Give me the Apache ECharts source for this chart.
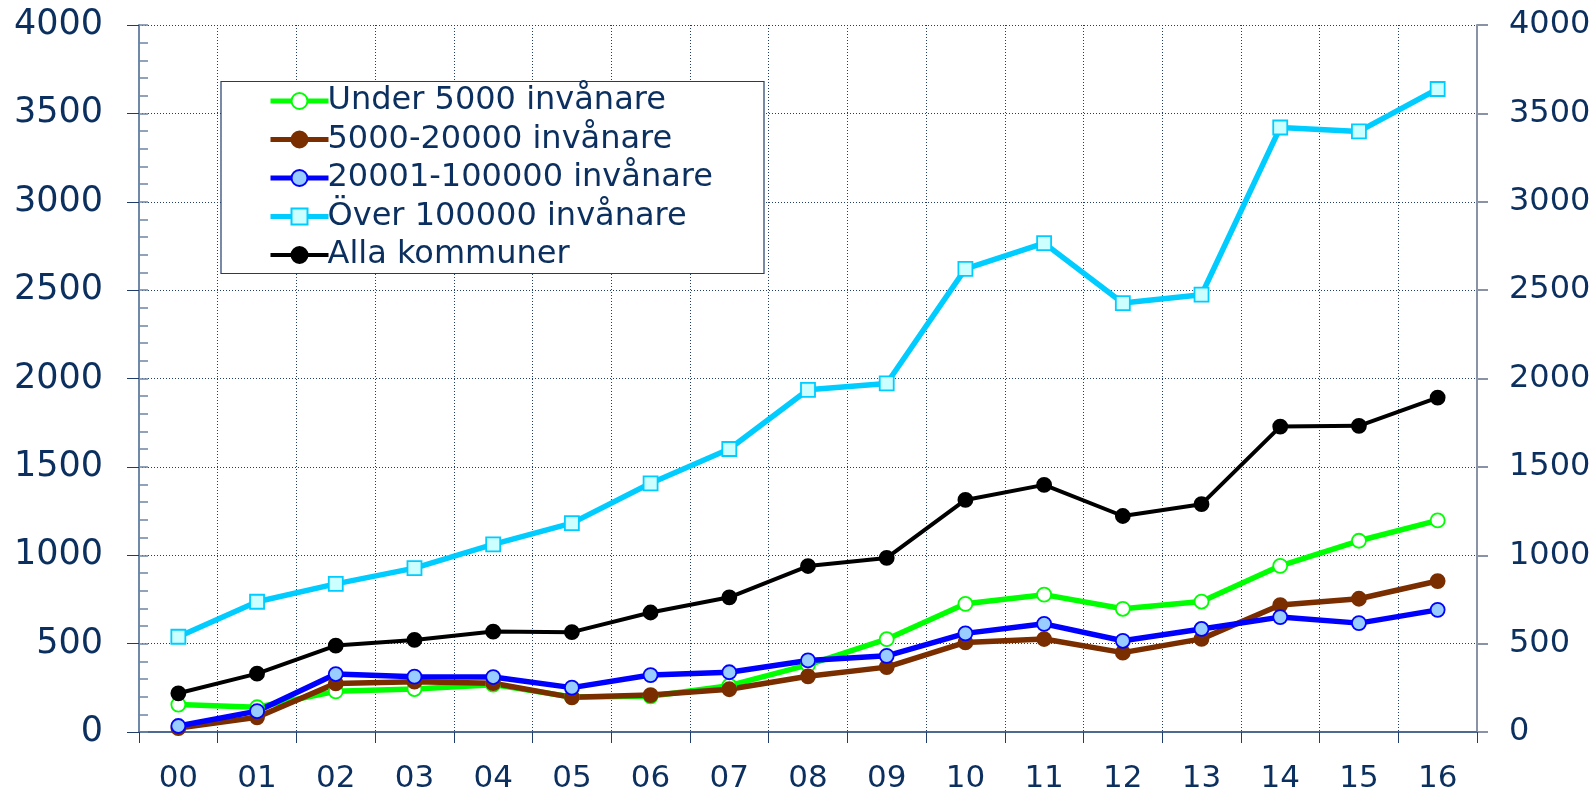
<!DOCTYPE html>
<html>
<head>
<meta charset="utf-8">
<script src="https://cdn.jsdelivr.net/npm/echarts@6/dist/echarts.min.js"></script>
<style>
  html, body { margin: 0; padding: 0; background: #fff; }
  #chart { width: 1596px; height: 794px; }
</style>
</head>
<body>
<div id="chart"></div>
<script>
  // år (kategorier)
  var years = ['00', '01', '02', '03', '04', '05', '06', '07', '08', '09', '10', '11', '12', '13', '14', '15', '16'];
  // värden per kommungrupp
  var under5000 = [155, 140, 230, 243, 268, 198, 202, 262, 380, 525, 725, 777, 697, 738, 940, 1082, 1197];
  var from5000to20000 = [22, 83, 275, 285, 276, 196, 209, 242, 315, 367, 507, 526, 449, 527, 718, 754, 854];
  var from20001to100000 = [34, 118, 328, 313, 311, 251, 322, 338, 405, 431, 558, 612, 516, 583, 650, 616, 691];
  var over100000 = [539, 737, 838, 927, 1062, 1182, 1407, 1601, 1936, 1972, 2620, 2766, 2427, 2474, 3420, 3398, 3638];
  var allaKommuner = [219, 330, 489, 521, 568, 565, 676, 762, 939, 985, 1313, 1398, 1222, 1289, 1728, 1732, 1892];
  var yTicks = [0, 500, 1000, 1500, 2000, 2500, 3000, 3500, 4000];

  var navy = '#0b2f5e';
  var font = 'DejaVu Sans';

  var chart = echarts.init(document.getElementById('chart'));

  function lineSeries(name, data, color, width, symbol, fill, size) {
    return {
      name: name,
      type: 'line',
      data: data,
      symbol: symbol,
      symbolSize: size,
      showSymbol: true,
      lineStyle: { color: color, width: width },
      itemStyle: { color: fill, borderColor: color, borderWidth: 1.8 },
      emphasis: { disabled: true },
      animation: false
    };
  }

  function legendItem(name, width) {
    return { name: name, lineStyle: { width: width } };
  }

  function tickLabel(v) {
    return yTicks.indexOf(v) >= 0 ? String(v) : '';
  }

  chart.setOption({
    animation: false,
    grid: { left: 139, right: 119, top: 25, bottom: 62 },
    graphic: [{
      type: 'rect',
      z: 5,
      shape: { x: 221, y: 81.5, width: 543, height: 192 },
      style: { fill: '#fff', stroke: '#1f3c6a', lineWidth: 1.2 }
    }],
    legend: {
      z: 6,
      orient: 'vertical',
      left: 268,
      top: 85,
      itemWidth: 58,
      itemHeight: 20,
      itemGap: 6.5,
      padding: 0,
      textStyle: { fontFamily: font, fontSize: 32, color: navy, lineHeight: 32, padding: [0, 0, 0, -6] },
      data: [
        legendItem('Under 5000 invånare', 5),
        legendItem('5000-20000 invånare', 5),
        legendItem('20001-100000 invånare', 5),
        legendItem('Över 100000 invånare', 5),
        legendItem('Alla kommuner', 4)
      ]
    },
    xAxis: {
      type: 'category',
      data: years,
      boundaryGap: true,
      axisLine: { lineStyle: { color: '#4d6b92', width: 2 } },
      axisTick: { show: true, length: 11, lineStyle: { color: '#1f3c6a', width: 1 } },
      axisLabel: { fontFamily: font, fontSize: 31, color: navy, margin: 31 },
      splitLine: { show: true, lineStyle: { color: '#1f3c6a', type: [1, 2], width: 1 } }
    },
    yAxis: [{
      type: 'value',
      position: 'left',
      min: 0,
      max: 4000,
      interval: 500,
      axisLine: { show: true, lineStyle: { color: '#7088a8', width: 2 } },
      axisTick: { show: true, length: 12, lineStyle: { color: '#1f3c6a', width: 1 } },
      axisLabel: { fontFamily: font, fontSize: 35, color: navy, margin: 36, formatter: tickLabel },
      splitLine: { show: true, lineStyle: { color: '#1f3c6a', type: [1, 2], width: 1 } }
    }, {
      type: 'value',
      position: 'right',
      min: 0,
      max: 4000,
      interval: 500,
      axisLine: { show: true, lineStyle: { color: '#8a93a5', width: 2 } },
      axisTick: { show: true, length: 11, lineStyle: { color: '#8a93a5', width: 2 } },
      axisLabel: { fontFamily: font, fontSize: 32, color: navy, margin: 32, formatter: tickLabel },
      splitLine: { show: false }
    }, {
      // småstreck på vänster axel
      type: 'value',
      position: 'left',
      min: 0,
      max: 4000,
      interval: 100,
      axisLine: { show: false },
      axisTick: { show: true, inside: true, length: 9, lineStyle: { color: '#6d84a3', width: 1.5 } },
      axisLabel: { show: false },
      splitLine: { show: false }
    }],
    series: [
      lineSeries('Under 5000 invånare', under5000, '#00ff00', 5.5, 'circle', '#ffffff', 14),
      lineSeries('5000-20000 invånare', from5000to20000, '#7a2e00', 5.5, 'circle', '#7a2e00', 14),
      lineSeries('20001-100000 invånare', from20001to100000, '#0000ff', 5.5, 'circle', '#99ccff', 14),
      lineSeries('Över 100000 invånare', over100000, '#00ccff', 5.5, 'rect', '#ccffff', 14),
      lineSeries('Alla kommuner', allaKommuner, '#000000', 4, 'circle', '#000000', 14)
    ]
  });
</script>
</body>
</html>
